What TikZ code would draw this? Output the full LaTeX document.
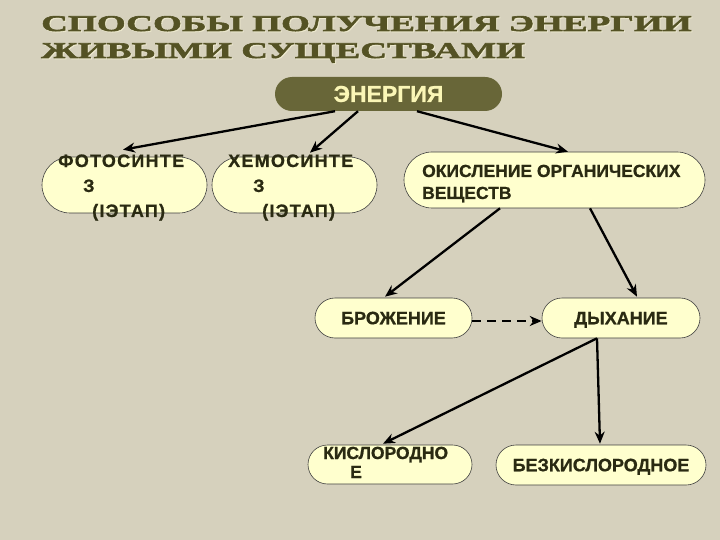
\documentclass[tikz,border=0pt]{standalone}
\usepackage{fontspec}
\setmainfont{Liberation Sans}[BoldFeatures={FakeBold=0.8}]
\newfontfamily\titlefont[FakeStretch=1.65,FakeBold=2.6]{Liberation Serif}
\usetikzlibrary{shapes.misc,arrows.meta}
\definecolor{fon}{RGB}{214,209,189}
\definecolor{oliv}{RGB}{84,82,36}
\definecolor{oliva}{RGB}{104,102,56}
\definecolor{svet}{RGB}{236,232,205}
\definecolor{pill}{RGB}{255,255,206}
\definecolor{ink}{RGB}{42,42,18}
\definecolor{cream}{RGB}{250,246,182}
\tikzset{
	blok/.style={rounded rectangle, draw=black!75, fill=pill, line width=.6pt, inner sep=0pt,
		font=\bfseries\fontsize{18}{21}\selectfont, text=ink, text height=12.5pt, text depth=0pt},
	txt/.style={font=\bfseries\fontsize{17.5}{21}\selectfont, text=ink, inner sep=0pt, anchor=base west},
	shir/.style={font=\bfseries\fontsize{18}{21}\selectfont\addfontfeature{LetterSpace=7}},
	zag/.style={font=\titlefont\bfseries\fontsize{22.5}{26}\selectfont, inner sep=0pt, anchor=base west},
	strel/.style={line width=2.3pt, -{Stealth[length=12pt,width=10pt]}},
}
\begin{document}
\begin{tikzpicture}[x=1pt,y=-1pt]
	\fill[fon] (0,0) rectangle (720,540);
	\foreach \s/\c in {1/svet,0/oliv}{
		\node[zag, text=\c] (zag1\s) at (41+\s,31+\s) {СПОСОБЫ ПОЛУЧЕНИЯ ЭНЕРГИИ};
		\node[zag, text=\c] (zag2\s) at (41+\s,58+\s) {ЖИВЫМИ СУЩЕСТВАМИ};
	}
	\node[rounded rectangle, fill=oliva, minimum width=227pt, minimum height=34pt, inner sep=0pt,
		font=\bfseries\fontsize{23}{26}\selectfont, text=cream] (energ) at (388.5,94) {ЭНЕРГИЯ};
	\node[blok, minimum width=165pt, minimum height=56pt] (foto) at (124.5,185) {};
	\node[blok, minimum width=165pt, minimum height=56pt] (hemo) at (294.5,185) {};
	\node[blok, minimum width=301pt, minimum height=56pt] (okis) at (554.5,180) {};
	\node[blok, minimum width=157pt, minimum height=40pt] (brozh) at (393.5,318) {БРОЖЕНИЕ};
	\node[blok, minimum width=158pt, minimum height=40pt] (dyh) at (621,318) {ДЫХАНИЕ};
	\node[blok, minimum width=164pt, minimum height=39pt] (kisl) at (390,464.5) {};
	\node[blok, minimum width=210pt, minimum height=40pt] (bezk) at (601,465) {БЕЗКИСЛОРОДНОЕ};
	\node[txt, shir] (foto1) at (58,167) {ФОТОСИНТЕ};
	\node[txt, shir] (foto2) at (83,192) {З};
	\node[txt, shir] (foto3) at (92,217) {(IЭТАП)};
	\node[txt, shir] (hemo1) at (228,167) {ХЕМОСИНТЕ};
	\node[txt, shir] (hemo2) at (253,192) {З};
	\node[txt, shir] (hemo3) at (262,217) {(IЭТАП)};
	\node[txt] (okis1) at (422,177) {ОКИСЛЕНИЕ ОРГАНИЧЕСКИХ};
	\node[txt] (okis2) at (422,199) {ВЕЩЕСТВ};
	\node[txt] (kisl1) at (323,459) {КИСЛОРОДНО};
	\node[txt] (kisl2) at (350,478) {Е};
	\draw[strel] ([xshift=-53.5pt]energ.south) -- ([shift={(-1.5pt,7pt)}]foto.north);
	\draw[strel] ([xshift=-30.5pt]energ.south) -- ([shift={(15.5pt,4pt)}]hemo.north);
	\draw[strel] ([xshift=28.5pt]energ.south) -- ([xshift=13.5pt]okis.north);
	\draw[strel] ([xshift=-54.5pt]okis.south) -- ([shift={(-8.5pt,1pt)}]brozh.north);
	\draw[strel] ([xshift=35.5pt]okis.south) -- ([shift={(16pt,1pt)}]dyh.north);
	\draw[strel, dash pattern=on 9pt off 6pt] ([yshift=-3pt]brozh.east) -- ([yshift=-3pt]dyh.west);
	\draw[strel] ([xshift=-24pt]dyh.south) -- ([shift={(-7pt,1pt)}]kisl.north);
	\draw[strel] ([xshift=-24pt]dyh.south) -- ([shift={(-1pt,1pt)}]bezk.north);
\end{tikzpicture}
\end{document}
